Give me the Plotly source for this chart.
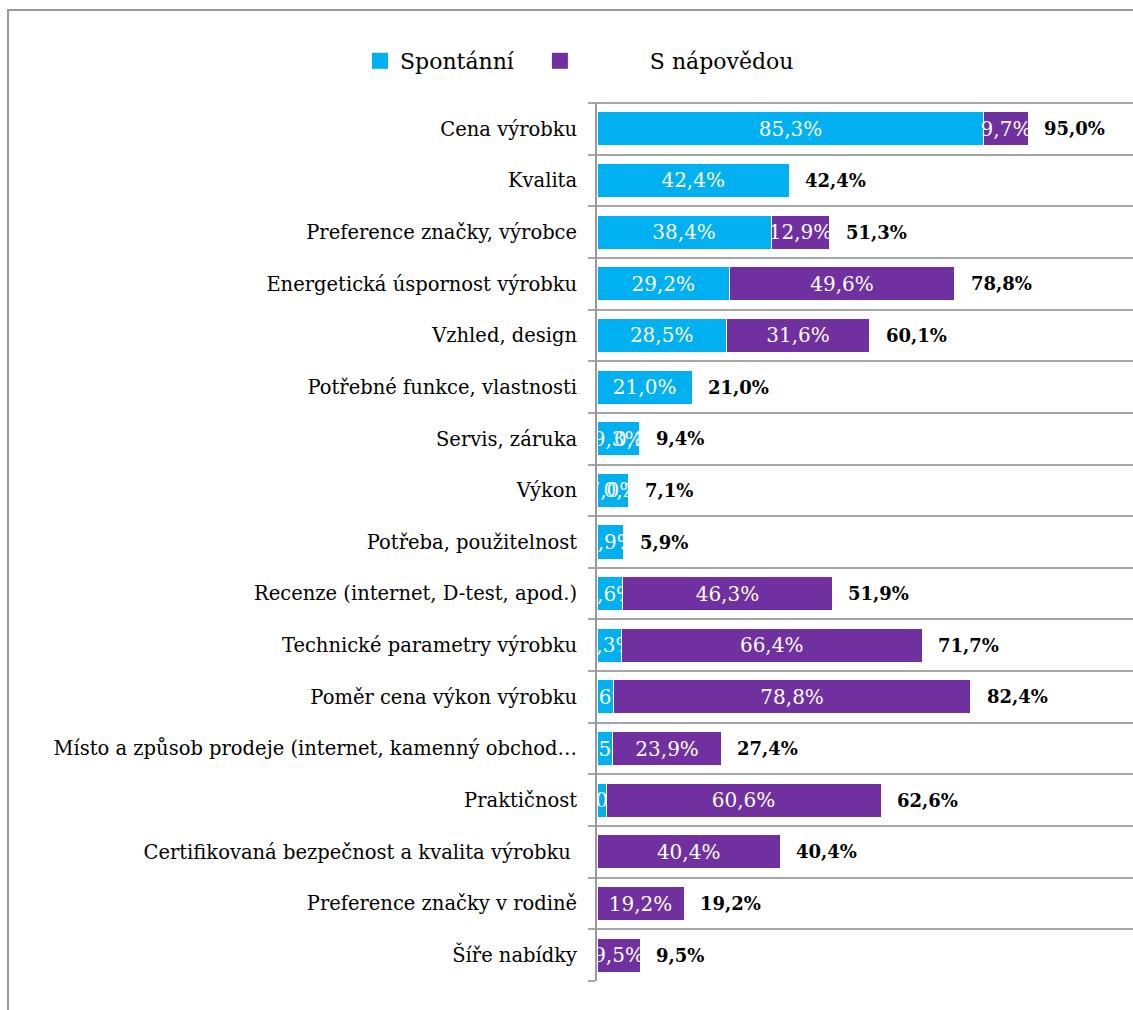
import plotly.graph_objects as go

categories = [
    "Cena výrobku",
    "Kvalita",
    "Preference značky, výrobce",
    "Energetická úspornost výrobku",
    "Vzhled, design",
    "Potřebné funkce, vlastnosti",
    "Servis, záruka",
    "Výkon",
    "Potřeba, použitelnost",
    "Recenze (internet, D-test, apod.)",
    "Technické parametry výrobku",
    "Poměr cena výkon výrobku",
    "Místo a způsob prodeje (internet, kamenný obchod…",
    "Praktičnost",
    "Certifikovaná bezpečnost a kvalita výrobku ",
    "Preference značky v rodině",
    "Šíře nabídky",
]
spontanni = [85.3, 42.4, 38.4, 29.2, 28.5, 21.0, 9.3, 7.0, 5.9, 5.6, 5.3, 3.6, 3.5, 2.0, None, None, None]
napovedou = [9.7, 0.0, 12.9, 49.6, 31.6, 0.0, 0.1, 0.1, 0.0, 46.3, 66.4, 78.8, 23.9, 60.6, 40.4, 19.2, 9.5]
totals = [95.0, 42.4, 51.3, 78.8, 60.1, 21.0, 9.4, 7.1, 5.9, 51.9, 71.7, 82.4, 27.4, 62.6, 40.4, 19.2, 9.5]
series_names = ["Spontánní", "S nápovědou"]

CYAN = "#00B0F0"
PURPLE = "#7030A0"
GRID = "#a6a6a6"
FONT = "DejaVu Serif"


def fmt(v):
    if v is None:
        return ""
    return f"{v:.1f}".replace(".", ",") + "%"


ypos = list(range(len(categories)))

fig = go.Figure()
for vals, col in ((spontanni, CYAN), (napovedou, PURPLE)):
    fig.add_trace(go.Bar(
        y=ypos, x=vals, orientation="h", showlegend=False,
        marker=dict(color=col, line=dict(color="white", width=1)),
        text=[fmt(v) for v in vals], textposition="inside",
        insidetextanchor="middle", textangle=0, constraintext="none",
        textfont=dict(color="white", size=20, family=FONT),
        cliponaxis=True, hoverinfo="skip",
    ))

# legend entries
fig.add_trace(go.Scatter(
    x=[None], y=[None], mode="markers", name=series_names[0] + "\u00a0" * 3,
    marker=dict(symbol="square", size=22, color=CYAN), hoverinfo="skip",
))
fig.add_trace(go.Scatter(
    x=[None], y=[None], mode="markers", name="\u00a0" * 10 + series_names[1],
    marker=dict(symbol="square", size=22, color=PURPLE), hoverinfo="skip",
))

for yi, t in zip(ypos, totals):
    fig.add_annotation(
        x=t, y=yi, xref="x", yref="y", text="<b>" + fmt(t) + "</b>",
        showarrow=False, xanchor="left", xshift=14,
        font=dict(size=18, color="black", family=FONT),
    )

L, T, B, W, H = 597, 103, 29, 1133, 1010
pw = W - L
ph = H - T - B

fig.add_shape(
    type="rect", xref="paper", yref="paper",
    x0=(8 - L) / pw, x1=1.05, y0=-0.1, y1=1 + (T - 10) / ph,
    line=dict(color="#9a9a9a", width=2), fillcolor="rgba(0,0,0,0)", layer="below",
)
# top gridline
fig.add_shape(
    type="line", xref="paper", yref="paper", x0=-7 / pw, x1=1.0, y0=1, y1=1,
    line=dict(color=GRID, width=2), layer="below",
)

fig.update_layout(
    width=W, height=H,
    margin=dict(l=L, r=0, t=T, b=B),
    barmode="stack", bargap=0.34,
    plot_bgcolor="white", paper_bgcolor="white",
    font=dict(family=FONT, size=20, color="black"),
    uniformtext=dict(minsize=20, mode="show"),
    showlegend=True,
    legend=dict(
        orientation="h", x=(360 - L) / pw, xanchor="left",
        y=1 + (T - 40) / ph, yanchor="top",
        font=dict(size=22, family=FONT), traceorder="normal",
        itemclick=False,
    ),
    xaxis=dict(
        range=[0, pw / (431 / 95.0)], visible=False, fixedrange=True,
    ),
    yaxis=dict(
        tickvals=ypos, ticktext=categories, autorange="reversed",
        range=[len(categories) - 0.5, -0.5],
        showgrid=False, showline=True, linecolor="#9a9a9a", linewidth=2,
        ticks="", ticklabelstandoff=14,
        tickfont=dict(size=19.5, family=FONT, color="black"),
        minor=dict(tick0=0.5, dtick=1, showgrid=True, gridcolor=GRID,
                   gridwidth=2, ticks="outside", ticklen=7, tickcolor=GRID,
                   tickwidth=2),
        zeroline=False, fixedrange=True,
    ),
)

fig.write_html("out.html")
